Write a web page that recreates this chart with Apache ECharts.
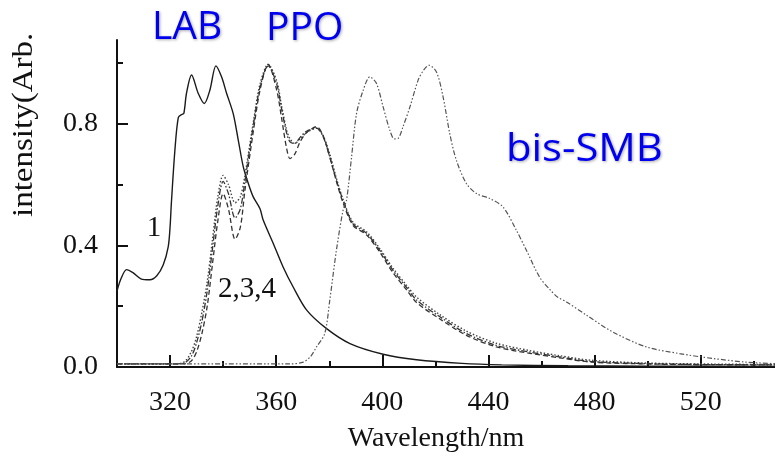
<!DOCTYPE html>
<html>
<head>
<meta charset="utf-8">
<script src="https://cdn.jsdelivr.net/npm/echarts@6/dist/echarts.min.js"></script>
<style>
    html, body { margin: 0; padding: 0; background: #fff; }
    #spectra { width: 775px; height: 462px; }
</style>
</head>
<body>
<div id="spectra"></div>
<script>
// curve 1: LAB (solid)
let labWave = [300, 301.5, 303.6, 306, 309, 312.4, 315, 317.4, 319.3, 320, 320.5, 321.8, 323.1, 324.4, 325.2, 326.2, 328.1, 330.6, 332.9, 335, 337.3, 339.4, 341.3, 343.8, 345.7, 347.6, 349.5, 351.3, 353.9, 355.1, 358.9, 362.6, 366.4, 371.5, 379, 387.8, 400.3, 412.9, 430, 445, 470, 500, 548];
let labInt = [0.25, 0.29, 0.32, 0.31, 0.29, 0.287, 0.30, 0.335, 0.395, 0.46, 0.54, 0.71, 0.82, 0.83, 0.834, 0.90, 0.96, 0.90, 0.866, 0.91, 0.99, 0.954, 0.90, 0.833, 0.746, 0.658, 0.603, 0.56, 0.52, 0.483, 0.406, 0.329, 0.263, 0.187, 0.126, 0.077, 0.042, 0.024, 0.012, 0.007, 0.004, 0.003, 0.002];

// curves 2,3,4: PPO (dotted, dash-dot, dashed)
let ppoWave = [300, 320, 325, 328, 330, 332, 334, 336, 338, 340, 342, 344.5, 346.5, 348.2, 351.3, 353.9, 357, 360.2, 362, 363.9, 365.2, 367, 369, 371.4, 375.2, 377.7, 380.2, 382.7, 385.2, 389, 394, 399, 404, 409, 412.9, 421.7, 431.7, 443, 455.6, 466.9, 479, 499.6, 520, 548];
let ppo2Int = [0.01, 0.01, 0.015, 0.05, 0.10, 0.18, 0.28, 0.42, 0.56, 0.63, 0.60, 0.54, 0.56, 0.63, 0.80, 0.93, 0.995, 0.94, 0.86, 0.78, 0.75, 0.735, 0.75, 0.77, 0.785, 0.76, 0.70, 0.62, 0.55, 0.475, 0.445, 0.39, 0.325, 0.27, 0.23, 0.172, 0.118, 0.078, 0.054, 0.037, 0.022, 0.013, 0.01, 0.008];
let ppo3Int = [0.01, 0.01, 0.012, 0.035, 0.08, 0.15, 0.25, 0.39, 0.53, 0.61, 0.57, 0.49, 0.52, 0.61, 0.79, 0.92, 0.99, 0.93, 0.85, 0.77, 0.74, 0.735, 0.755, 0.775, 0.785, 0.757, 0.69, 0.614, 0.548, 0.47, 0.44, 0.384, 0.318, 0.263, 0.22, 0.165, 0.11, 0.071, 0.049, 0.033, 0.018, 0.011, 0.008, 0.007];
let ppo4Int = [0.01, 0.01, 0.01, 0.02, 0.05, 0.11, 0.20, 0.34, 0.48, 0.57, 0.52, 0.42, 0.46, 0.58, 0.77, 0.91, 0.995, 0.91, 0.82, 0.72, 0.685, 0.70, 0.74, 0.77, 0.79, 0.76, 0.69, 0.61, 0.54, 0.465, 0.435, 0.378, 0.31, 0.255, 0.212, 0.158, 0.104, 0.066, 0.045, 0.03, 0.016, 0.01, 0.008, 0.007];

// bis-SMB (dash-dot-dot)
let smbWave = [300, 340, 365, 370.2, 373, 375.2, 378.3, 380.2, 382.7, 385.2, 386.5, 388.4, 390.3, 392.8, 395.3, 397.8, 400.3, 402.8, 404.5, 406, 407.8, 410.4, 413.5, 415.5, 417.6, 420.4, 422.9, 425.4, 427.9, 431.7, 435.5, 440.5, 445.5, 450.5, 454.3, 459.3, 463.1, 466, 469.4, 477, 486.9, 499.5, 512, 524.6, 537.2, 548];
let smbInt = [0.01, 0.01, 0.01, 0.016, 0.035, 0.066, 0.11, 0.22, 0.384, 0.515, 0.548, 0.69, 0.834, 0.91, 0.954, 0.932, 0.855, 0.779, 0.75, 0.752, 0.79, 0.855, 0.943, 0.975, 0.992, 0.97, 0.888, 0.768, 0.68, 0.603, 0.57, 0.554, 0.526, 0.45, 0.384, 0.295, 0.255, 0.23, 0.214, 0.17, 0.115, 0.066, 0.044, 0.028, 0.016, 0.011];

let xMajor = [320, 360, 400, 440, 480, 520];
let xMinor = [340, 380, 420, 460, 500, 540];
let yMajor = [0, 0.4, 0.8];
let yMinor = [0.2, 0.6, 1.0];

setSpectra();

function setSpectra() {
    let chart = echarts.init(document.getElementById("spectra"));
    let serif = "'Liberation Serif', 'Times New Roman', serif";
    let axisColor = "#111";

    function pairs(xs, ys) {
        let out = [];
        for (let i = 0; i < xs.length; i++) {
            out.push([xs[i], ys[i]]);
        }
        return out;
    }

    function curve(name, xs, ys, color, dash, width) {
        return {
            name: name,
            type: "line",
            xAxisIndex: 0,
            yAxisIndex: 0,
            data: pairs(xs, ys),
            symbol: "none",
            smooth: 0.3,
            lineStyle: {
                color: color,
                width: width,
                type: dash,
            },
        };
    }

    function blueLabel(text, x, y, stretch) {
        return {
            type: "text",
            x: x,
            y: y,
            scaleX: stretch,
            style: {
                text: text,
                font: "39px 'Open Sans', 'Noto Sans', sans-serif",
                fill: "#0000f0",
                align: "left",
                verticalAlign: "middle",
                textShadowColor: "rgba(0,0,0,0.35)",
                textShadowBlur: 3,
                textShadowOffsetX: 1,
                textShadowOffsetY: 1,
            },
        };
    }

    function serifLabel(text, x, y, size) {
        return {
            type: "text",
            x: x,
            y: y,
            style: {
                text: text,
                font: size + "px " + serif,
                fill: "#111",
                align: "center",
                verticalAlign: "middle",
            },
        };
    }

    chart.setOption({
        animation: false,
        backgroundColor: "#fff",
        grid: {
            left: 117,
            right: 0,
            top: 40,
            bottom: 95,
        },
        xAxis: [
            {
                type: "value",
                min: 300,
                max: 548,
                axisLine: { lineStyle: { color: axisColor, width: 2 } },
                axisTick: {
                    inside: true,
                    length: 12,
                    customValues: xMajor,
                    lineStyle: { color: axisColor, width: 2 },
                },
                axisLabel: {
                    customValues: xMajor,
                    margin: 22,
                    color: "#111",
                    fontSize: 28,
                    fontFamily: serif,
                },
                splitLine: { show: false },
            },
            {
                type: "value",
                min: 300,
                max: 548,
                position: "bottom",
                axisLine: { show: false },
                axisTick: {
                    inside: true,
                    length: 6,
                    customValues: xMinor,
                    lineStyle: { color: axisColor, width: 2 },
                },
                axisLabel: { show: false },
                splitLine: { show: false },
            },
        ],
        yAxis: [
            {
                type: "value",
                min: 0,
                max: 1.075,
                axisLine: { show: true, lineStyle: { color: axisColor, width: 2 } },
                axisTick: {
                    show: true,
                    inside: true,
                    length: 11,
                    customValues: yMajor,
                    lineStyle: { color: axisColor, width: 2 },
                },
                axisLabel: {
                    customValues: yMajor,
                    margin: 19,
                    color: "#111",
                    fontSize: 28,
                    fontFamily: serif,
                    formatter: function (v) {
                        return v.toFixed(1);
                    },
                },
                splitLine: { show: false },
            },
            {
                type: "value",
                min: 0,
                max: 1.075,
                position: "left",
                axisLine: { show: false },
                axisTick: {
                    show: true,
                    inside: true,
                    length: 6,
                    customValues: yMinor,
                    lineStyle: { color: axisColor, width: 2 },
                },
                axisLabel: { show: false },
                splitLine: { show: false },
            },
        ],
        series: [
            curve("1", labWave, labInt, "#1a1a1a", "solid", 1.4),
            curve("2", ppoWave, ppo2Int, "#444", [1.5, 2], 1.4),
            curve("3", ppoWave, ppo3Int, "#333", [6, 2, 1.5, 2], 1.3),
            curve("4", ppoWave, ppo4Int, "#333", [5, 3], 1.3),
            curve("bis-SMB", smbWave, smbInt, "#555", [5, 2, 1.5, 2, 1.5, 2], 1.2),
        ],
        graphic: [
            blueLabel("LAB", 152, 28, 1),
            blueLabel("PPO", 266, 29, 1),
            blueLabel("bis-SMB", 506, 150, 1.07),
            serifLabel("1", 154, 228, 29),
            serifLabel("2,3,4", 247, 289, 29),
            serifLabel("Wavelength/nm", 436, 439, 28),
            {
                type: "text",
                x: 24,
                y: 217,
                rotation: Math.PI / 2,
                scaleX: 1.1,
                style: {
                    text: "intensity(Arb.",
                    font: "30px " + serif,
                    fill: "#111",
                    align: "left",
                    verticalAlign: "middle",
                },
            },
        ],
    });
    window.addEventListener("resize", function () {
        chart.resize();
    });
}
</script>
</body>
</html>
